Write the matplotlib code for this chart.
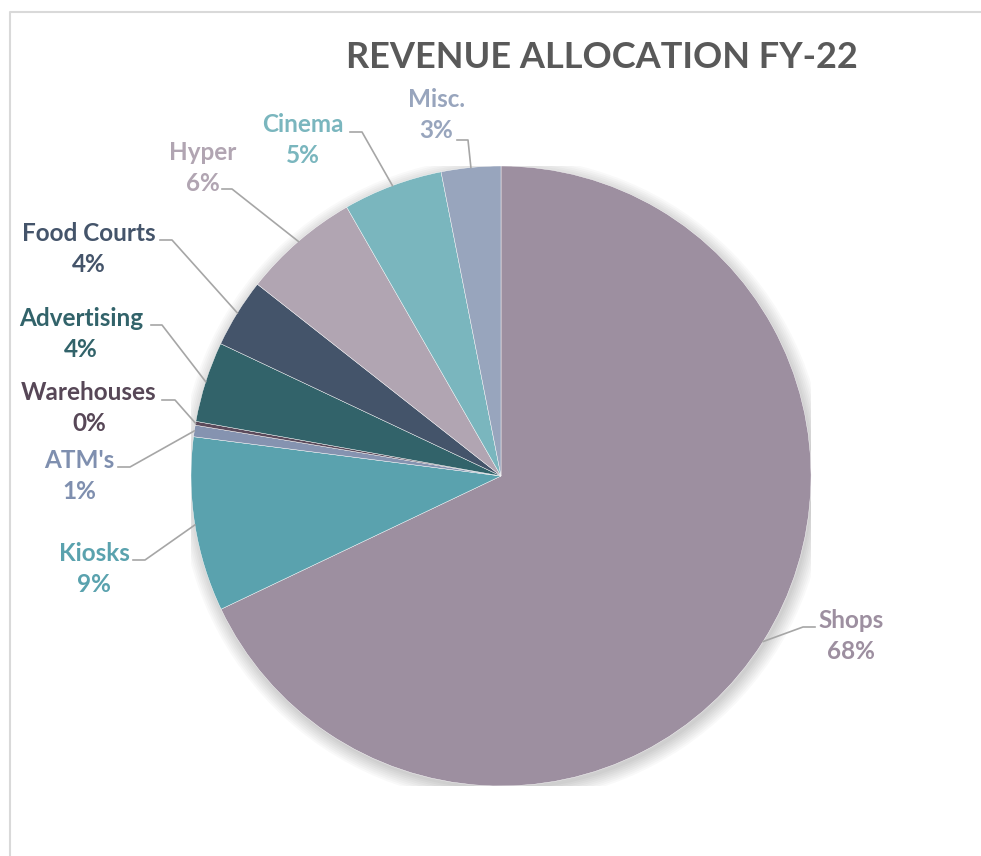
import numpy as np
import matplotlib
matplotlib.use("Agg")
import matplotlib.pyplot as plt
from matplotlib.lines import Line2D
from matplotlib.patches import Circle

# ---- data ----
categories = ["Shops", "Kiosks", "ATM's", "Warehouses", "Advertising",
              "Food Courts", "Hyper", "Cinema", "Misc."]
values = [68.0, 9.1, 0.6, 0.2, 4.2, 3.6, 6.1, 5.2, 3.1]
colors = ["#9D8FA0", "#5AA2AE", "#8593B0", "#5B4A5B", "#32636A",
          "#44546A", "#B1A5B2", "#7AB6BE", "#98A5BD"]
label_colors = ["#9D8FA0", "#5AA2AE", "#7F8FAF", "#574757", "#32636A",
                "#44546A", "#B1A5B2", "#7AB6BE", "#98A5BD"]
title = "REVENUE ALLOCATION FY-22"

# ---- layout (figure pixels, top-left origin) ----
W, H = 981, 856
label_pos = [(851, 636), (94, 569), (79, 476), (89, 408), (81, 334),
             (89, 249), (203, 168), (303, 140), (436, 115)]
leader_start = [(815, 627), (133, 560), (118, 467), (162, 400), (151, 325),
                (160, 240), (222, 189), (350, 132), (457, 140)]
leader_elbow = [(803, 627), (145, 560), (130, 467), (175, 400), (162, 325),
                (172, 240), (232, 189), (362, 132), (468, 140)]

FONT = "Lato"

fig = plt.figure(figsize=(W / 100, H / 100), dpi=100)
fig.patch.set_facecolor("white")

cx, cy, R = 501, 476, 310
ax = fig.add_axes([(cx - R) / W, (H - cy - R) / H, 2 * R / W, 2 * R / H])
ax.set_xlim(-1, 1)
ax.set_ylim(-1, 1)
ax.set_aspect("equal")
ax.axis("off")

# soft shadow
for k in range(8):
    ax.add_patch(Circle((0.006, -0.012), 1.0 + 0.006 * k, color="black",
                        alpha=0.025, lw=0, zorder=0))

wedges, _ = ax.pie(values, colors=colors, startangle=90, counterclock=False,
                   radius=1.0, wedgeprops=dict(edgecolor="white", linewidth=0.3),
                   frame=False)
ax.set_xlim(-1, 1)
ax.set_ylim(-1, 1)
for w in wedges:
    w.set_zorder(2)

total = sum(values)

def fig_px(x, y):
    return fig.transFigure.inverted().transform(np.array([x, H - y]))

for i, w in enumerate(wedges):
    mid = np.deg2rad((w.theta1 + w.theta2) / 2)
    anchor_disp = ax.transData.transform((np.cos(mid), np.sin(mid)))
    anchor = fig.transFigure.inverted().transform(anchor_disp)
    s = fig_px(*leader_start[i])
    e = fig_px(*leader_elbow[i])
    fig.add_artist(Line2D([s[0], e[0], anchor[0]], [s[1], e[1], anchor[1]],
                          transform=fig.transFigure, color="#A6A6A6", lw=1.2,
                          zorder=5))
    p = fig_px(*label_pos[i])
    pct = round(values[i] / total * 100)
    fig.text(p[0], p[1], f"{categories[i]}\n{pct:.0f}%", ha="center",
             va="center", fontsize=17.5, fontweight="bold", family=FONT,
             color=label_colors[i], linespacing=1.4)

# title
t = fig_px(602, 57)
fig.text(t[0], t[1], title, ha="center", va="center", fontsize=26,
         fontweight="bold", family=FONT, color="#595959")

# chart border (left and top)
a = fig_px(10, H)
b = fig_px(10, 12)
c = fig_px(W, 12)
fig.add_artist(Line2D([a[0], b[0], c[0]], [a[1], b[1], c[1]],
                      transform=fig.transFigure, color="#D9D9D9", lw=1.5))

fig.savefig("out.png", dpi=100, facecolor="white")
